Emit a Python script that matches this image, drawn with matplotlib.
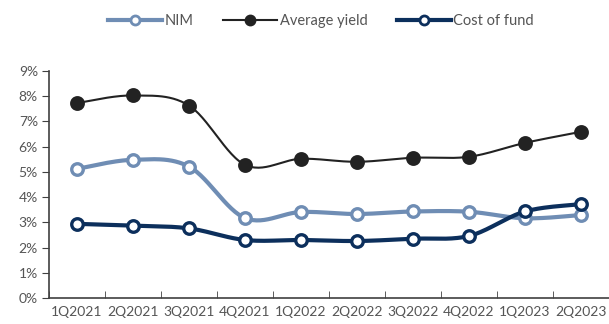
import numpy as np
import matplotlib
matplotlib.use("Agg")
import matplotlib.pyplot as plt
from matplotlib.ticker import FuncFormatter

categories = ["1Q2021", "2Q2021", "3Q2021", "4Q2021", "1Q2022", "2Q2022",
              "3Q2022", "4Q2022", "1Q2023", "2Q2023"]
nim = [5.12, 5.48, 5.21, 3.17, 3.41, 3.33, 3.43, 3.42, 3.16, 3.29]
avg_yield = [7.73, 8.03, 7.63, 5.28, 5.52, 5.40, 5.56, 5.60, 6.15, 6.59]
cost_of_fund = [2.94, 2.87, 2.76, 2.30, 2.30, 2.26, 2.35, 2.46, 3.43, 3.72]

plt.rcParams['font.family'] = ['Lato', 'DejaVu Sans']


def smooth(x, y, n=30):
    """Excel-like smoothing (Catmull-Rom style cubic Bezier)."""
    x = np.asarray(x, float)
    y = np.asarray(y, float)
    px = np.concatenate([[x[0]], x, [x[-1]]])
    py = np.concatenate([[y[0]], y, [y[-1]]])
    xs, ys = [], []
    t = np.linspace(0, 1, n)
    for i in range(1, len(px) - 2):
        p0 = np.array([px[i], py[i]])
        p3 = np.array([px[i + 1], py[i + 1]])
        p1 = p0 + (np.array([px[i + 1], py[i + 1]]) - np.array([px[i - 1], py[i - 1]])) / 6
        p2 = p3 - (np.array([px[i + 2], py[i + 2]]) - np.array([px[i], py[i]])) / 6
        b = ((1 - t) ** 3)[:, None] * p0 + (3 * (1 - t) ** 2 * t)[:, None] * p1 \
            + (3 * (1 - t) * t ** 2)[:, None] * p2 + (t ** 3)[:, None] * p3
        xs.extend(b[:, 0])
        ys.extend(b[:, 1])
    return np.array(xs), np.array(ys)


fig = plt.figure(figsize=(6.09, 3.24), dpi=100)
ax = fig.add_axes([49 / 609, 1 - 298 / 324, 560 / 609, 227 / 324])

x = np.arange(len(categories))
series = [
    ("NIM", nim, "#6f8db4", 3.0, "white"),
    ("Average yield", avg_yield, "#222222", 1.5, "#222222"),
    ("Cost of fund", cost_of_fund, "#0c2f5c", 3.0, "white"),
]
handles = []
for name, vals, col, lw, fc in series:
    sx, sy = smooth(x, vals)
    ax.plot(sx, sy, color=col, lw=lw, solid_capstyle='round', zorder=2)
    ax.plot(x, vals, ls='none', marker='o', ms=8.3, mfc=fc, mec=col, mew=2.4, zorder=3)
    h, = ax.plot([], [], color=col, lw=lw, marker='o', ms=6.5,
                 mfc=fc, mec=col, mew=2.0, label=name)
    handles.append(h)

ax.set_xlim(-0.5, len(categories) - 0.5)
ax.set_ylim(0, 9)
ax.set_yticks(np.arange(0, 10, 1))
ax.yaxis.set_major_formatter(FuncFormatter(lambda v, p: f"{int(round(v))}%"))
ax.set_xticks(x)
ax.set_xticklabels(categories)
ax.set_xticks(np.arange(-0.5, len(categories), 1), minor=True)
ax.tick_params(axis='x', which='major', length=0, labelsize=10, colors='#555555', pad=6)
ax.tick_params(axis='x', which='minor', length=5, direction='in', color='#404040')
ax.tick_params(axis='y', length=5, direction='out', labelsize=10, colors='#555555', pad=3)
ax.tick_params(axis='y', color='#404040')
for s in ['top', 'right']:
    ax.spines[s].set_visible(False)
for s in ['left', 'bottom']:
    ax.spines[s].set_color('#404040')
    ax.spines[s].set_linewidth(1.2)

fig.legend(handles=handles, loc='center', bbox_to_anchor=(0.527, 1 - 21 / 324), ncol=3,
           frameon=False, fontsize=10.5, handlelength=3.7, handletextpad=0.2,
           columnspacing=2.0, labelcolor='#555555')

fig.savefig("out.png", dpi=100)
